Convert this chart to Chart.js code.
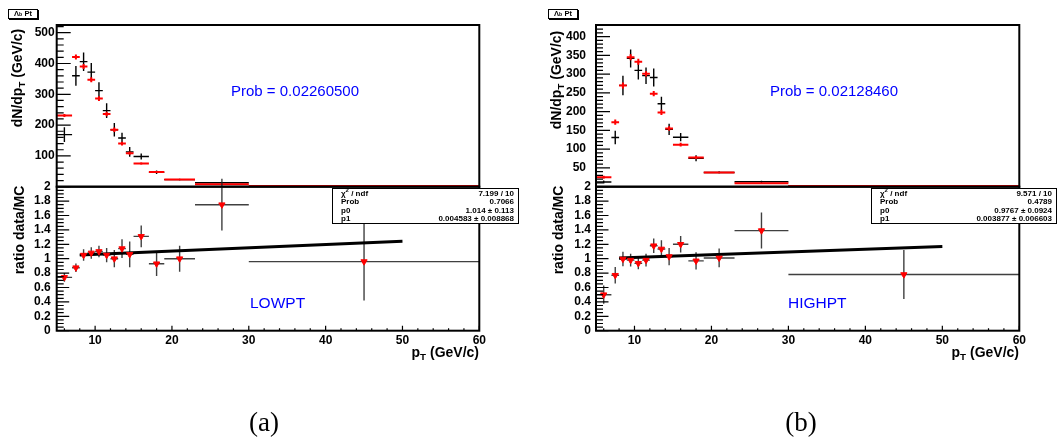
<!DOCTYPE html>
<html><head><meta charset="utf-8">
<script src="https://cdn.jsdelivr.net/npm/chart.js@4.4.1/dist/chart.umd.min.js"></script>
<style>
html,body{margin:0;padding:0;background:#fff;}
#wrap{position:relative;width:1061px;height:443px;overflow:hidden;font-family:"Liberation Sans",Arial,sans-serif;background:#fff;}
canvas{position:absolute;left:0;top:0;}
.t{position:absolute;white-space:nowrap;line-height:1;z-index:5;}
.blue{color:#0000ff;font-size:15px;}
.ax{font-weight:bold;font-size:14px;color:#000;}
.rot{transform:translate(-50%,-50%) rotate(-90deg);}
.sub{font-size:70%;position:relative;top:0.35em;}
.stat{position:absolute;background:#fff;border:1.5px solid #000;box-sizing:border-box;z-index:6;font-weight:bold;font-size:8px;padding-top:1px;}
.stat div{display:flex;justify-content:space-between;line-height:8.3px;padding-left:8px;padding-right:4px;}
.tb{position:absolute;border:1px solid #000;box-shadow:1px 1px 0 #000;background:#fff;font-size:7.5px;font-weight:bold;line-height:8px;text-align:center;z-index:6;box-sizing:border-box;}
.lab{position:absolute;font-family:"Liberation Serif","DejaVu Serif",serif;font-size:27px;line-height:1;transform:translate(-50%,-50%);}
</style></head><body><div id="wrap">
<canvas id="ua" width="1061" height="443"></canvas>
<canvas id="la" width="1061" height="443"></canvas>
<canvas id="ub" width="1061" height="443"></canvas>
<canvas id="lb" width="1061" height="443"></canvas>

<div class="tb" style="left:8px;top:9px;width:30px;height:10px;">&Lambda;<span style="font-size:70%">b</span> Pt</div>
<div class="tb" style="left:548px;top:9px;width:30px;height:10px;">&Lambda;<span style="font-size:70%">b</span> Pt</div>

<div class="t blue" style="left:231px;top:83px;">Prob = 0.02260500</div>
<div class="t blue" style="left:770px;top:83px;">Prob = 0.02128460</div>
<div class="t blue" style="left:250px;top:295px;font-size:15.5px;">LOWPT</div>
<div class="t blue" style="left:788px;top:295px;font-size:15.5px;">HIGHPT</div>

<div class="t ax rot" style="left:17px;top:78px;">dN/dp<span class="sub">T</span> (GeV/c)</div>
<div class="t ax rot" style="left:18.5px;top:230px;">ratio data/MC</div>
<div class="t ax rot" style="left:556px;top:80px;">dN/dp<span class="sub">T</span> (GeV/c)</div>
<div class="t ax rot" style="left:558px;top:230px;">ratio data/MC</div>

<div class="t ax" style="right:582px;top:345px;">p<span class="sub">T</span> (GeV/c)</div>
<div class="t ax" style="right:42px;top:345px;">p<span class="sub">T</span> (GeV/c)</div>

<div class="stat" style="left:332px;top:188px;width:187px;height:36px;">
<div><span>&chi;<sup style="font-size:6px;line-height:0">2</sup> / ndf</span><span>7.199 / 10</span></div>
<div><span>Prob</span><span>0.7066</span></div>
<div><span>p0</span><span>1.014 &plusmn; 0.113</span></div>
<div><span>p1</span><span>0.004583 &plusmn; 0.008868</span></div>
</div>
<div class="stat" style="left:871px;top:188px;width:186px;height:36px;">
<div><span>&chi;<sup style="font-size:6px;line-height:0">2</sup> / ndf</span><span>9.571 / 10</span></div>
<div><span>Prob</span><span>0.4789</span></div>
<div><span>p0</span><span>0.9767 &plusmn; 0.0924</span></div>
<div><span>p1</span><span>0.003877 &plusmn; 0.006603</span></div>
</div>

<div class="lab" style="left:264px;top:422px;">(a)</div>
<div class="lab" style="left:801px;top:422px;">(b)</div>
</div>
<script>
// ---------------- DATA ----------------
const binEdges   = [5,7,8,9,10,11,12,13,14,15,17,19,23,30,60];
const binCenters = [6,7.5,8.5,9.5,10.5,11.5,12.5,13.5,14.5,16,18,21,26.5,45];

// LOWPT (a)
const dataLow     = [169,360,406,372,312,247,185,158,113,98,47,23,13,2];
const dataLowErr  = [24,32,30,30,27,24,22,17,16,10,6,3,2,1];
const mcLow       = [231,421,390,347,286,236,185,140,109,75,48,23,8,2];
const mcLowErr    = [5,8,8,8,8,7,7,6,5,4,3,2,1,0.5];
const ratioLow    = [0.74,0.875,1.05,1.08,1.10,1.05,1.00,1.14,1.06,1.31,0.93,1.00,1.75,0.96];
const ratioLowErr = [0.06,0.06,0.08,0.08,0.08,0.10,0.12,0.13,0.18,0.15,0.17,0.18,0.36,0.54];
const fitLow      = [{x:8,y:1.051},{x:50,y:1.243}];

// HIGHPT (b)
const dataHigh     = [12.5,131,270,342,310,296,291,221,153,132,76,38,13,2];
const dataHighErr  = [4,18,26,24,24,22,24,19,15,11,8,3,3,1];
const mcHigh       = [25,172,270,345,333,301,248,198,155,112,78,38,9.5,2];
const mcHighErr    = [4,7,8,8,8,7,7,7,6,5,4,2,1,0.5];
const ratioHigh    = [0.50,0.77,0.995,0.98,0.935,0.98,1.18,1.135,1.03,1.20,0.97,1.01,1.39,0.78];
const ratioHighErr = [0.127,0.115,0.10,0.09,0.08,0.09,0.10,0.12,0.12,0.115,0.12,0.13,0.25,0.34];
const fitHigh      = [{x:8,y:1.008},{x:50,y:1.171}];

// ---------------- HELPERS ----------------
function pts(vals, errs){
  return vals.map((v,i)=>({x:binCenters[i], y:v, xl:binEdges[i], xh:binEdges[i+1], ey:errs[i]}));
}

const rootDecor = {
  id:'rootDecor',
  beforeDatasetsDraw(chart){
    const ctx = chart.ctx, xs = chart.scales.x, ys = chart.scales.y;
    chart.data.datasets.forEach(ds=>{
      if(!ds.errBars) return;
      ctx.save();
      ctx.strokeStyle = ds.errColor; ctx.lineWidth = ds.errWidth; ctx.lineCap='butt';
      ds.data.forEach(p=>{
        const px = xs.getPixelForValue(p.x), py = ys.getPixelForValue(p.y);
        ctx.beginPath();
        ctx.moveTo(xs.getPixelForValue(p.xl), py); ctx.lineTo(xs.getPixelForValue(p.xh), py);
        ctx.moveTo(px, ys.getPixelForValue(p.y - p.ey)); ctx.lineTo(px, ys.getPixelForValue(p.y + p.ey));
        ctx.stroke();
      });
      ctx.restore();
    });
  },
  afterDraw(chart, args, o){
    const ctx = chart.ctx, a = chart.chartArea, xs = chart.scales.x, ys = chart.scales.y;
    ctx.save();
    ctx.strokeStyle = '#000';
    if(o.y){
      const c=o.y, n=Math.round((ys.max-ys.min)/c.minor);
      ctx.lineWidth=1.2;
      ctx.beginPath();
      for(let i=0;i<=n;i++){
        const v=ys.min+i*c.minor; if(v>ys.max+1e-9) break;
        const r=v/c.major, maj=Math.abs(r-Math.round(r))<1e-6;
        const y=ys.getPixelForValue(v);
        ctx.moveTo(a.left,y); ctx.lineTo(a.left+(maj?c.majLen:c.minLen),y);
      }
      ctx.stroke();
    }
    if(o.x){
      const c=o.x, n=Math.round((xs.max-xs.min)/c.minor)+2;
      ctx.lineWidth=1.2;
      ctx.beginPath();
      const start=Math.ceil(xs.min/c.minor)*c.minor;
      for(let i=0;i<=n;i++){
        const v=start+i*c.minor; if(v>xs.max+1e-9) break;
        const r=v/c.major, maj=Math.abs(r-Math.round(r))<1e-6;
        const x=xs.getPixelForValue(v);
        ctx.moveTo(x,a.bottom); ctx.lineTo(x,a.bottom-(maj?c.majLen:c.minLen));
      }
      ctx.stroke();
    }
    ctx.lineWidth=2;
    ctx.strokeRect(a.left,a.top,a.right-a.left,a.bottom-a.top);
    ctx.restore();
  }
};

const W=1061, H=443;
const tickFont = {family:'Liberation Sans', weight:'bold', size:12};
function makePad(id, fr, cfg){
  const yW=60, xH = cfg.showX ? 20 : 0;
  return new Chart(document.getElementById(id), {
    type:'scatter',
    data:{datasets:cfg.datasets},
    options:{
      responsive:false, animation:false, events:[], devicePixelRatio:1,
      layout:{padding:{left:fr.l-yW, top:fr.t, right:W-fr.r, bottom:H-fr.b-xH}},
      plugins:{legend:{display:false}, tooltip:{enabled:false}, rootDecor:{x:cfg.xt, y:cfg.yt}},
      scales:{
        x:{type:'linear', min:5, max:60, display:cfg.showX,
           grid:{display:false, drawTicks:false}, border:{display:false},
           ticks:{stepSize:10, includeBounds:false, autoSkip:false, maxRotation:0, padding:3,
                  color:'#000', font:tickFont},
           afterFit(s){ s.height = xH; }},
        y:{type:'linear', min:cfg.ymin, max:cfg.ymax,
           grid:{display:false, drawTicks:false}, border:{display:false},
           ticks:{stepSize:cfg.ystep, includeBounds:false, autoSkip:false, padding:cfg.ypad,
                  color:'#000', font:tickFont,
                  callback:function(v){
                    if(cfg.hideZero && v===0) return '';
                    return String(Math.round(v*100)/100);
                  }},
           afterFit(s){ s.width = yW; }}
      }
    },
    plugins:[rootDecor]
  });
}

function upperSets(dv,de,mv,me){
  return [
    {data:pts(dv,de), errBars:true, errColor:'#000', errWidth:1.4, pointRadius:0, showLine:false},
    {data:pts(mv,me), errBars:true, errColor:'#f00', errWidth:2, pointRadius:0, showLine:false}
  ];
}
function lowerSets(rv,re,fit){
  return [
    {data:pts(rv,re), errBars:true, errColor:'rgba(30,30,30,0.85)', errWidth:1.4,
     pointStyle:'triangle', rotation:180, pointRadius:3.6, backgroundColor:'#f00', borderColor:'#f00', borderWidth:1, showLine:false},
    {type:'line', data:fit, borderColor:'#000', borderWidth:3, pointRadius:0, showLine:true, fill:false}
  ];
}

const frUA={l:56.7,t:25,r:479.3,b:186.7}, frLA={l:56.7,t:186.7,r:479.3,b:330.7};
const frUB={l:596,t:25,r:1019.3,b:186.7}, frLB={l:596,t:186.7,r:1019.3,b:330.7};

makePad('ua', frUA, {showX:false, ymin:0, ymax:525, ystep:100, ypad:2, hideZero:true,
  yt:{major:100, minor:20, majLen:14, minLen:7}, datasets:upperSets(dataLow,dataLowErr,mcLow,mcLowErr)});
makePad('la', frLA, {showX:true, ymin:0, ymax:2, ystep:0.2, ypad:6, hideZero:false,
  yt:{major:0.2, minor:0.05, majLen:12.5, minLen:7}, xt:{major:10, minor:2, majLen:5, minLen:2.5},
  datasets:lowerSets(ratioLow,ratioLowErr,fitLow)});
makePad('ub', frUB, {showX:false, ymin:0, ymax:431, ystep:50, ypad:10, hideZero:true,
  yt:{major:50, minor:10, majLen:14, minLen:7}, datasets:upperSets(dataHigh,dataHighErr,mcHigh,mcHighErr)});
makePad('lb', frLB, {showX:true, ymin:0, ymax:2, ystep:0.2, ypad:5, hideZero:false,
  yt:{major:0.2, minor:0.05, majLen:12.5, minLen:7}, xt:{major:10, minor:2, majLen:5, minLen:2.5},
  datasets:lowerSets(ratioHigh,ratioHighErr,fitHigh)});
</script>
</body></html>
